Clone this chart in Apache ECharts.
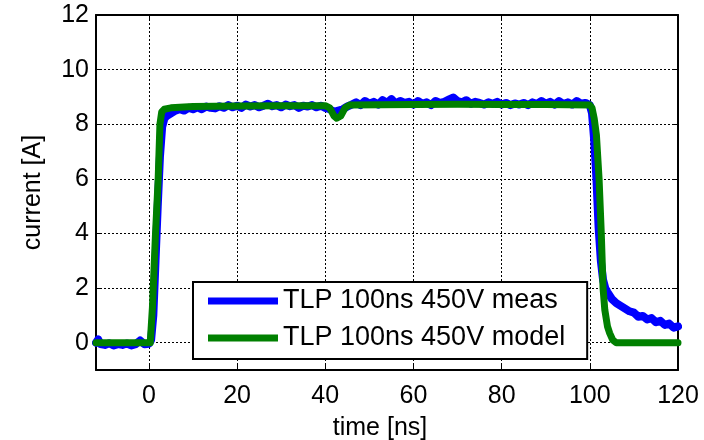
<!DOCTYPE html>
<html>
<head>
<meta charset="utf-8">
<script src="https://cdn.jsdelivr.net/npm/echarts@6/dist/echarts.min.js"></script>
<style>
  html, body { margin: 0; padding: 0; background: #fff; }
  #chart { width: 704px; height: 440px; }
</style>
</head>
<body>
<div id="chart"></div>
<script>
// measured TLP pulse (ns, A)
const measTime = [
  -12, -11.5, -11, -10, -9, -8, -7, -6, -5, -4, -3, -2, -1, 0, 0.5, 1, 1.5, 2, 2.5, 3, 3.5, 4,
  5, 6, 7, 8, 9, 10, 11, 12, 13, 14, 15, 16, 17, 18, 19, 20, 21, 22, 23, 24, 25, 26, 27, 28, 29,
  30, 31, 32, 33, 34, 35, 36, 37, 38, 39, 40, 41, 42, 43, 44, 45, 46, 47, 48, 49, 50, 51, 52, 53,
  54, 55, 56, 57, 58, 59, 60, 61, 62, 63, 64, 65, 66, 67, 68, 69, 70, 71, 72, 73, 74, 75, 76, 77,
  78, 79, 80, 81, 82, 83, 84, 85, 86, 87, 88, 89, 90, 91, 92, 93, 94, 95, 96, 97, 98, 99, 100,
  100.5, 101, 101.5, 102, 102.5, 103, 103.5, 104, 105, 106, 107, 108, 109, 110, 111, 112, 113,
  114, 115, 116, 117, 118, 119, 120
]
const measCurrent = [
  0.0, 0.12, -0.05, -0.08, -0.02, -0.1, -0.05, -0.08, -0.03, -0.1, -0.05, 0.08, -0.06, -0.04, 0.1, 1.0, 3.0, 5.0, 6.8, 7.9, 8.2, 8.3,
  8.4, 8.5, 8.55, 8.5, 8.6, 8.55, 8.62, 8.55, 8.65, 8.6, 8.58, 8.66, 8.6, 8.7, 8.62, 8.68, 8.6, 8.72, 8.65, 8.7, 8.62, 8.68, 8.75, 8.66, 8.7,
  8.62, 8.72, 8.66, 8.7, 8.6, 8.68, 8.65, 8.7, 8.62, 8.68, 8.6, 8.55, 8.45, 8.5, 8.55, 8.65, 8.72, 8.8, 8.7, 8.85, 8.75, 8.82, 8.72, 8.88,
  8.78, 8.92, 8.75, 8.85, 8.78, 8.82, 8.72, 8.85, 8.75, 8.8, 8.7, 8.85, 8.78, 8.82, 8.9, 8.98, 8.85, 8.8, 8.88, 8.75, 8.82, 8.78, 8.72, 8.8,
  8.75, 8.82, 8.72, 8.78, 8.7, 8.76, 8.72, 8.78, 8.7, 8.8, 8.74, 8.85, 8.75, 8.82, 8.72, 8.85, 8.74, 8.8, 8.72, 8.85, 8.75, 8.78, 8.7,
  8.4, 7.4, 6.0, 4.2, 3.0, 2.3, 2.0, 1.85, 1.6, 1.45, 1.35, 1.25, 1.15, 1.1, 0.95, 0.98, 0.85,
  0.9, 0.75, 0.8, 0.65, 0.7, 0.55, 0.6
]

// model curve
const modelTime = [
  -12, 0.3, 0.8, 1.5, 2.1, 2.5, 2.9, 3.5, 5, 10, 20, 30, 40, 41, 42, 42.6, 43.5, 44.5, 45.5,
  60, 70, 80, 90, 100, 100.5, 101, 101.5, 102.1, 102.6, 103, 103.4, 104, 104.5, 105.2, 106, 120
]
const modelCurrent = [
  0, 0, 1.3, 4.0, 6.0, 8.0, 8.45, 8.55, 8.6, 8.65, 8.67, 8.68, 8.68, 8.6, 8.3, 8.22, 8.3, 8.6, 8.7,
  8.72, 8.73, 8.72, 8.72, 8.7, 8.6, 8.2, 7.6, 6.0, 4.0, 2.0, 1.2, 0.6, 0.35, 0.1, 0, 0
]

const seriesNames = ['TLP 100ns 450V meas', 'TLP 100ns 450V model']
const xName = 'time [ns]'
const yName = 'current [A]'

const zip = (a, b) => a.map((v, i) => [v, b[i]])
const font = 'Liberation Sans, Arial, sans-serif'

const chart = echarts.init(document.getElementById('chart'))

const axisBase = {
  type: 'value',
  axisLine: { show: true, onZero: false, lineStyle: { color: '#000', width: 2 } },
  axisTick: { show: true, inside: true, length: 5, lineStyle: { color: '#000', width: 1 } },
  splitLine: { show: false }
}

chart.setOption({
  animation: false,
  textStyle: { fontFamily: font },
  grid: { left: 96, right: 26, top: 15, bottom: 70, show: false, containLabel: false, outerBoundsMode: 'none' },
  legend: {
    left: 193,
    top: 282,
    orient: 'vertical',
    backgroundColor: '#fff',
    borderColor: '#000',
    borderWidth: 2,
    borderRadius: 0,
    padding: [3, 22, 5, 15],
    itemWidth: 70,
    itemHeight: 7,
    itemGap: 5,
    icon: 'rect',
    textStyle: { fontSize: 27, color: '#000', fontFamily: font, lineHeight: 32 },
    data: seriesNames
  },
  xAxis: [
    Object.assign({}, axisBase, {
      min: -12,
      max: 120,
      splitNumber: 6,
      position: 'bottom',
      name: xName,
      nameLocation: 'middle',
      nameGap: 46,
      nameTextStyle: { fontSize: 25, color: '#000', fontFamily: font, padding: [0, 14, 0, 0] },
      axisLabel: { fontSize: 25, color: '#000', margin: 14, showMinLabel: false, fontFamily: font },
      splitLine: { show: true, lineStyle: { color: '#000', type: [2, 2], width: 1 } }
    }),
    Object.assign({}, axisBase, {
      min: -12,
      max: 120,
      splitNumber: 6,
      position: 'top',
      axisLabel: { show: false }
    })
  ],
  yAxis: [
    Object.assign({}, axisBase, {
      min: -1,
      max: 12,
      splitNumber: 6,
      position: 'left',
      name: yName,
      nameLocation: 'middle',
      nameGap: 50,
      nameTextStyle: { fontSize: 25, color: '#000', fontFamily: font },
      axisLabel: { fontSize: 25, color: '#000', margin: 7, showMinLabel: false, fontFamily: font },
      splitLine: { show: true, lineStyle: { color: '#000', type: [2, 2], width: 1 } }
    }),
    Object.assign({}, axisBase, {
      min: -1,
      max: 12,
      splitNumber: 6,
      position: 'right',
      axisLabel: { show: false }
    })
  ],
  series: [
    {
      name: seriesNames[0],
      type: 'line',
      data: zip(measTime, measCurrent),
      showSymbol: false,
      symbol: 'none',
      color: '#0000ff',
      lineStyle: { width: 8, color: '#0000ff', join: 'round', cap: 'round' },
      z: 2
    },
    {
      name: seriesNames[1],
      type: 'line',
      data: zip(modelTime, modelCurrent),
      showSymbol: false,
      symbol: 'none',
      color: '#008000',
      lineStyle: { width: 7, color: '#008000', join: 'round', cap: 'round' },
      z: 3
    }
  ]
})
</script>
</body>
</html>
